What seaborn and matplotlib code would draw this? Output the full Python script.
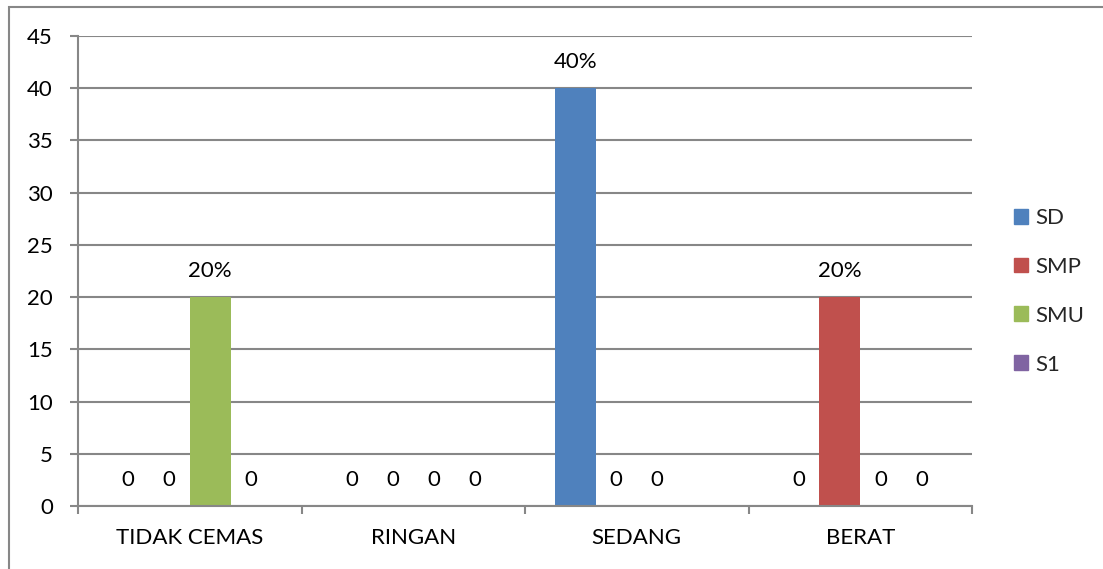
import matplotlib
matplotlib.use("Agg")
import matplotlib.pyplot as plt
import matplotlib.patches as mpatches
import seaborn as sns
import pandas as pd
import numpy as np

categories = ["TIDAK CEMAS", "RINGAN", "SEDANG", "BERAT"]
series = ["SD", "SMP", "SMU", "S1"]
sd_values = [0, 0, 40, 0]
smp_values = [0, 0, 0, 20]
smu_values = [20, 0, 0, 0]
s1_values = [0, 0, 0, 0]
sd_labels = ["0", "0", "40%", "0"]
smp_labels = ["0", "0", "0", "20%"]
smu_labels = ["20%", "0", "0", "0"]
s1_labels = ["0", "0", "", "0"]
colors = ["#4F81BD", "#C0504D", "#9BBB59", "#8064A2"]
yticks = [0, 5, 10, 15, 20, 25, 30, 35, 40, 45]

values = [sd_values, smp_values, smu_values, s1_values]
labels = [sd_labels, smp_labels, smu_labels, s1_labels]
rows = []
for s, vals in zip(series, values):
    for c, v in zip(categories, vals):
        rows.append({"kategori": c, "pendidikan": s, "nilai": v})
df = pd.DataFrame(rows)

sns.set_theme(style="white")
FONT = ["Lato", "DejaVu Sans"]
plt.rcParams["font.family"] = FONT
FS = 16

fig = plt.figure(figsize=(11.03, 5.69), dpi=100)
ax = fig.add_axes([78/1103, 1-506/569, (972-78)/1103, (506-36)/569])

sns.barplot(data=df, x="kategori", y="nilai", hue="pendidikan", order=categories,
            hue_order=series, palette=colors, width=0.734, saturation=1,
            edgecolor="none", linewidth=0, ax=ax, legend=False)

gray = "#878787"
ax.set_ylim(0, 45)
ax.set_xlim(-0.5, 3.5)
ax.set_yticks(yticks)
ax.set_yticklabels([str(t) for t in yticks])
ax.yaxis.grid(True, color=gray, linewidth=1.5)
ax.set_axisbelow(True)
for side in ["top", "right"]:
    ax.spines[side].set_visible(False)
for side in ["left", "bottom"]:
    ax.spines[side].set_color(gray)
    ax.spines[side].set_linewidth(1.5)
ax.set_xlabel("")
ax.set_ylabel("")
ax.tick_params(axis="y", which="major", length=6, width=1.5, color=gray,
               direction="out", left=True, pad=12, labelsize=FS, labelcolor="black")
ax.tick_params(axis="x", which="major", length=0, pad=16, labelsize=FS, labelcolor="black")
ax.set_xticks(np.arange(-0.5, 4.0, 1.0), minor=True)
ax.tick_params(axis="x", which="minor", length=6, width=1.5, color=gray,
               direction="out", bottom=True)

# data labels
containers = ax.containers
for cont, labs in zip(containers, labels):
    for bar, lab in zip(cont, labs):
        if lab == "":
            continue
        xc = bar.get_x() + bar.get_width() / 2
        ax.text(xc, bar.get_height() + 2.5, lab, ha="center", va="center",
                fontsize=FS, color="black")

# legend
handles = [mpatches.Patch(color=c, label=s) for c, s in zip(colors, series)]
fig.legend(handles=handles, loc="upper left", bbox_to_anchor=(1005/1103, 1-199/569),
           frameon=False, fontsize=FS, handlelength=0.65, handleheight=0.65,
           handletextpad=0.3, labelspacing=1.3, borderaxespad=0)

# outer chart frame
fig.patches.append(mpatches.Rectangle((9/1103, -0.1), 1.2, 1.1 - 7/569,
                                      transform=fig.transFigure, fill=False,
                                      edgecolor=gray, linewidth=1.5))

fig.savefig("out.png", dpi=100)
